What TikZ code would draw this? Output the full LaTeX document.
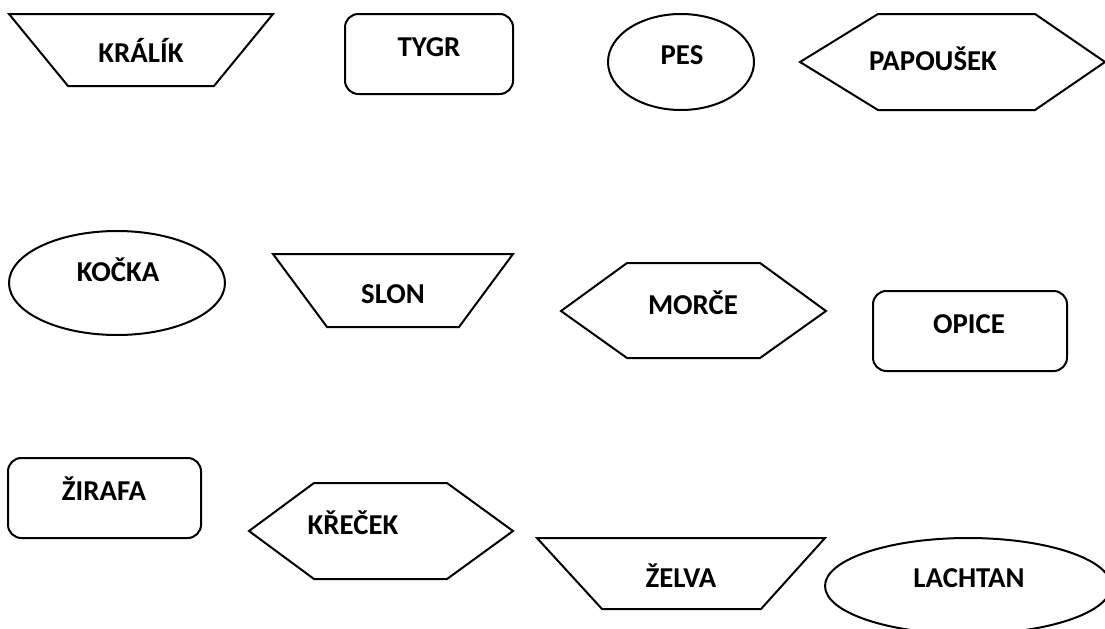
\documentclass[tikz,border=0pt]{standalone}
\usepackage{fontspec}
\setmainfont{Carlito}
\usepackage{tikz}
\tikzset{
	animal/.style={font=\fontsize{21.6}{26}\selectfont\bfseries, anchor=base, inner sep=0pt},
	outline/.style={draw=black, line width=1.5pt, line join=miter},
	roundbox/.style={outline, rounded corners=10pt},
}

\begin{document}
\begin{tikzpicture}[
            x=0.75pt,
            y=-0.75pt
        ]
        \useasboundingbox (0,0) rectangle (1105,628);
        \clip (0,0) rectangle (1105,628);

        % first row
        \draw[outline] (9,14) -- (273,14) -- (214,86) -- (68,86) -- cycle;
        \node[animal] (kralik) at (141,62) {KRÁLÍK};
        \draw[roundbox] (345,14) rectangle (513,94);
        \node[animal] (tygr) at (429,56) {TYGR};
        \draw[outline] (681,62) ellipse [x radius=73, y radius=48];
        \node[animal] (pes) at (682,64) {PES};
        \draw[outline] (800,62) -- (878,14) -- (1035,14) -- (1105,62)
            -- (1035,110) -- (878,110) -- cycle;
        \node[animal] (papousek) at (933,70) {PAPOUŠEK};

        % second row
        \draw[outline] (117,283) ellipse [x radius=108, y radius=52];
        \node[animal] (kocka) at (118,281) {KOČKA};
        \draw[outline] (273,254) -- (513,254) -- (459,327) -- (327,327) -- cycle;
        \node[animal] (slon) at (393,303) {SLON};
        \draw[outline] (561,311) -- (627,263) -- (760,263) -- (826,311)
            -- (760,358) -- (627,358) -- cycle;
        \node[animal] (morce) at (693,314) {MORČE};
        \draw[roundbox] (873,291) rectangle (1067,371);
        \node[animal] (opice) at (969,333) {OPICE};

        % third row
        \draw[roundbox] (8,458) rectangle (201,538);
        \node[animal] (zirafa) at (104,500) {ŽIRAFA};
        \draw[outline] (249,531) -- (314,483) -- (447,483) -- (513,531)
            -- (447,579) -- (314,579) -- cycle;
        \node[animal] (krecek) at (353,534) {KŘEČEK};
        \draw[outline] (537,538) -- (825,538) -- (761,609) -- (602,609) -- cycle;
        \node[animal] (zelva) at (681,587) {ŽELVA};
        \draw[outline] (968,586) ellipse [x radius=143, y radius=48];
        \node[animal] (lachtan) at (969,587) {LACHTAN};
    \end{tikzpicture}
\end{document}
